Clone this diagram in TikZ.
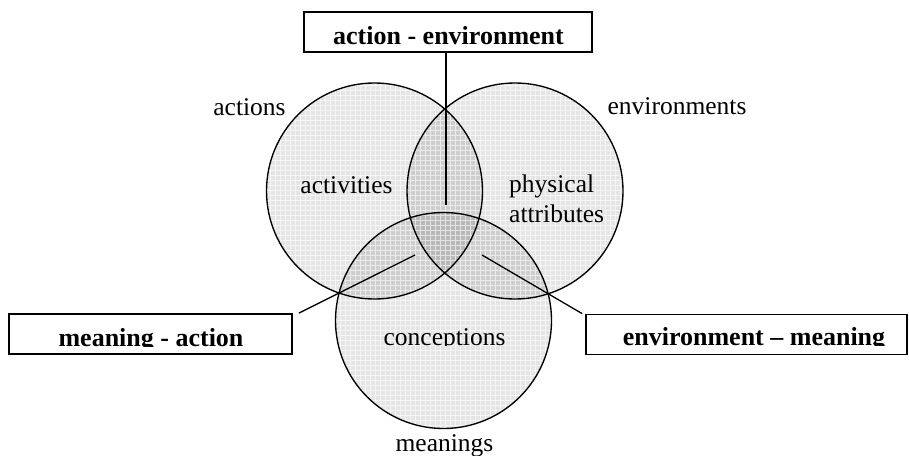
\documentclass[tikz,border=0pt]{standalone}
\usepackage{fontspec}
\setmainfont{Liberation Serif}
\begin{document}
\begin{tikzpicture}[x=1pt,y=-1pt,
  lbl/.style={anchor=base, font=\fontsize{25.5}{30}\selectfont, inner sep=0pt},
  boxlbl/.style={anchor=base, font=\fontsize{26}{30}\selectfont\bfseries, inner sep=0pt},
  labelbox/.style={draw, line width=1.8pt, inner sep=0pt, minimum height=40pt},
  ring/.style={draw, circle, line width=1.35pt, minimum size=216pt, inner sep=0pt},
  shade/.style={fill=black, fill opacity=0.10},
  conn/.style={line width=1.3pt}]
\useasboundingbox (0,0) rectangle (909,455);
% shaded discs
\fill[shade] (374.5,191) circle (108);
\fill[shade] (515,191) circle (108);
\fill[shade] (443.5,320.5) circle (108);
\begin{scope}
  \clip (374.5,191) circle (108) (515,191) circle (108) (443.5,320.5) circle (108);
  \draw[white, line width=0.5pt, opacity=0.6, step=5pt] (255,70) grid (640,440);
\end{scope}
% circle outlines
\node[ring] (ca) at (374.5,191) {};
\node[ring] (ce) at (515,191) {};
\node[ring] (cm) at (443.5,320.5) {};
% boxes
\node[labelbox, minimum width=288pt] (ae) at (448,32) {};
\node[labelbox, minimum width=283pt] (ma) at (150.5,334) {};
\node[labelbox, minimum width=321pt] (em) at (746.5,334.5) {};
% connector ends
\coordinate (tc) at (446,205);
\coordinate (lc) at (415,255);
\coordinate (rc) at (482,255);
\draw[conn] (ae.south -| tc) -- (tc);
\draw[conn] (lc) -- ([xshift=6pt]ma.north east);
\draw[conn] (rc) -- ([xshift=-3pt]em.north west);
% box labels (clipped at the baseline as in the original)
\begin{scope}
  \clip (300,10) rectangle (600,44.6);
  \node[boxlbl] (aet) at (448.5,44) {action - environment};
\end{scope}
\begin{scope}
  \clip (5,300) rectangle (295,346.6);
  \node[boxlbl] (mat) at (151,346) {meaning - action};
\end{scope}
\begin{scope}
  \clip (586,300) rectangle (906,345.6);
  \node[boxlbl] (emt) at (754,345) {environment -- meaning};
\end{scope}
% circle labels
\node[lbl] (lact) at (249.5,115) {actions};
\node[lbl] (lenv) at (677,114) {environments};
\node[lbl] (lacv) at (346.5,193) {activities};
\node[lbl, anchor=north west, align=left, inner sep=0pt] (lphy) at (509,174.5) {physical\\attributes};
\begin{scope}
  \clip (330,300) rectangle (560,345.8);
  \node[lbl] (lcon) at (444.5,345) {conceptions};
\end{scope}
\node[lbl] (lmea) at (444.5,451) {meanings};
\end{tikzpicture}
\end{document}
